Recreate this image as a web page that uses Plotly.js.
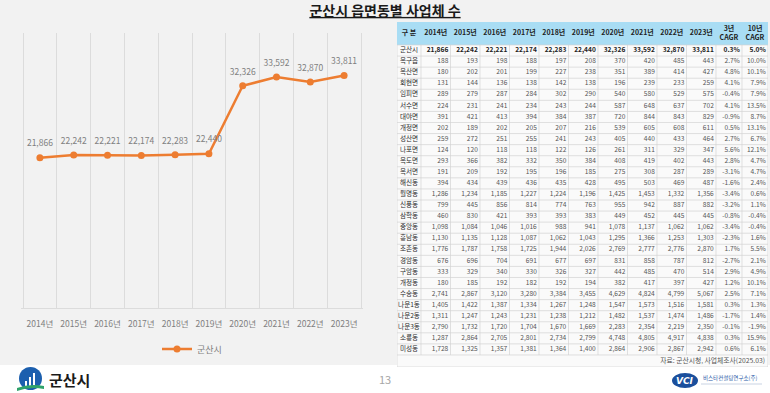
<!DOCTYPE html>
<html><head><meta charset="utf-8">
<script src="https://cdn.plot.ly/plotly-3.0.1.min.js"></script>
<style>html,body{margin:0;padding:0;background:#fff;}#chart{width:770px;height:393px;}</style>
</head><body><div id="chart"></div>
<script>
// ---------------- data ----------------
const years = ['2014년','2015년','2016년','2017년','2018년','2019년','2020년','2021년','2022년','2023년'];
const gunsanTotal = [21866,22242,22221,22174,22283,22440,32326,33592,32870,33811];
const seriesName = '군산시';
const chartTitle = '군산시 읍면동별 사업체 수';

const regions = ['군산시','옥구읍','옥산면','회현면','임피면','서수면','대야면','개정면','성산면','나포면',
  '옥도면','옥서면','해신동','월명동','신풍동','삼학동','중앙동','흥남동','조촌동','경암동',
  '구암동','개정동','수송동','나운1동','나운2동','나운3동','소룡동','미성동'];
const regionCounts = [
  [21866,22242,22221,22174,22283,22440,32326,33592,32870,33811],
  [188,193,198,188,197,208,370,420,485,443],
  [180,202,201,199,227,238,351,389,414,427],
  [131,144,136,138,142,138,196,239,233,259],
  [289,279,287,284,302,290,540,580,529,575],
  [224,231,241,234,243,244,587,648,637,702],
  [391,421,413,394,384,387,720,844,843,829],
  [202,189,202,205,207,216,539,605,608,611],
  [259,272,251,255,241,243,405,440,433,464],
  [124,120,118,118,122,126,261,311,329,347],
  [293,366,382,332,350,384,408,419,402,443],
  [191,209,192,195,196,185,275,308,287,289],
  [394,434,439,436,435,428,495,503,469,487],
  [1286,1234,1185,1227,1224,1196,1425,1453,1332,1356],
  [799,445,856,814,774,763,955,942,887,882],
  [460,830,421,393,393,383,449,452,445,445],
  [1098,1084,1046,1016,988,941,1078,1137,1062,1062],
  [1130,1135,1128,1087,1062,1043,1295,1366,1253,1303],
  [1776,1787,1758,1725,1944,2026,2769,2777,2776,2870],
  [676,696,704,691,677,697,831,858,787,812],
  [333,329,340,330,326,327,442,485,470,514],
  [180,185,192,182,192,194,382,417,397,427],
  [2741,2867,3120,3280,3384,3455,4629,4824,4799,5067],
  [1405,1422,1387,1334,1267,1248,1547,1573,1516,1581],
  [1311,1247,1243,1231,1238,1212,1482,1537,1474,1486],
  [2790,1732,1720,1704,1670,1669,2283,2354,2219,2350],
  [1287,2864,2705,2801,2734,2799,4748,4805,4917,4838],
  [1728,1325,1357,1381,1364,1400,2864,2906,2867,2942]
];
const cagr3 = [0.3,2.7,4.8,4.1,-0.4,4.1,-0.9,0.5,2.7,5.6,2.8,-3.1,-1.6,-3.4,-3.2,-0.8,-3.4,-2.3,1.7,-2.7,2.9,1.2,2.5,0.3,-1.7,-0.1,0.3,0.6];
const cagr10 = [5.0,10.0,10.1,7.9,7.9,13.5,8.7,13.1,6.7,12.1,4.7,4.7,2.4,0.6,1.1,-0.4,-0.4,1.6,5.5,2.1,4.9,10.1,7.1,1.3,1.4,-1.9,15.9,6.1];
const headerLabels = ['구 분'].concat(years).concat(['3년<br>CAGR','10년<br>CAGR']);
const sourceNote = '자료: 군산시청, 사업체조사(2025.03)';

// ---------------- geometry / style ----------------
const W = 770, H = 393;
const px = x => x / W;
const py = y => 1 - y / H;
const FONT = '"Noto Sans CJK KR", "Noto Sans", sans-serif';
const ORANGE = '#ED7D31';
const GREY_TXT = '#7f7f7f';

const TBL_L = 397, TBL_T = 22, TBL_B = 367;
const NAME_W = 24, YEAR_W = 29.5, CAGR_W = 26;
const HEAD_H = 23, ROW_H = 11.07;
const colWidths = [NAME_W].concat(years.map(() => YEAR_W)).concat([CAGR_W, CAGR_W]);
const colEdges = [0];
colWidths.forEach(w => colEdges.push(colEdges[colEdges.length - 1] + w));
const tblW = colEdges[colEdges.length - 1];
const TBL_R = TBL_L + tblW;
const tblH = TBL_B - TBL_T;
const bodyEnd = HEAD_H + regions.length * ROW_H;

const fmtNum = v => v.toLocaleString('en-US');
const fmtPct = v => v.toFixed(1) + '%';

// ---------------- traces ----------------
const traces = [];
traces.push({
  type: 'scatter', mode: 'lines+markers', x: years, y: gunsanTotal, name: seriesName,
  line: {color: ORANGE, width: 2.5}, marker: {color: ORANGE, size: 7},
  hoverinfo: 'skip', cliponaxis: false
});
traces.push({
  type: 'scatter', mode: 'markers+text', x: years, y: gunsanTotal, showlegend: false,
  text: gunsanTotal.map(fmtNum), textposition: 'top center',
  textfont: {family: FONT, size: 8.5, color: GREY_TXT},
  marker: {size: 13, color: 'rgba(0,0,0,0)'}, hoverinfo: 'skip', cliponaxis: false
});

// table header
traces.push({
  type: 'scatter', mode: 'text', xaxis: 'x2', yaxis: 'y2', showlegend: false, hoverinfo: 'skip', cliponaxis: false,
  x: headerLabels.map((_, j) => (colEdges[j] + colEdges[j + 1]) / 2),
  y: headerLabels.map(() => HEAD_H / 2),
  text: headerLabels.map(t => '<b>' + t + '</b>'),
  textposition: 'middle center',
  textfont: {family: FONT, size: 7, color: '#1f1f1f'}
});
// region names
traces.push({
  type: 'scatter', mode: 'text', xaxis: 'x2', yaxis: 'y2', showlegend: false, hoverinfo: 'skip', cliponaxis: false,
  x: regions.map(() => (colEdges[0] + colEdges[1]) / 2),
  y: regions.map((_, i) => HEAD_H + (i + 0.5) * ROW_H),
  text: regions,
  textposition: 'middle center',
  textfont: {family: FONT, size: 6.6, color: '#2b2b2b'}
});
// numeric cells
const cx = [], cy = [], ct = [], cc = [];
regions.forEach((r, i) => {
  const rowVals = regionCounts[i].map(fmtNum).concat([fmtPct(cagr3[i]), fmtPct(cagr10[i])]);
  rowVals.forEach((t, j) => {
    cx.push(colEdges[j + 2] - 2.2);
    cy.push(HEAD_H + (i + 0.5) * ROW_H);
    ct.push(i === 0 ? '<b>' + t + '</b>' : t);
    cc.push(i === 0 ? '#222222' : '#555555');
  });
});
traces.push({
  type: 'scatter', mode: 'text', xaxis: 'x2', yaxis: 'y2', showlegend: false, hoverinfo: 'skip', cliponaxis: false,
  x: cx, y: cy, text: ct, textposition: 'middle left',
  textfont: {family: FONT, size: 6.6, color: cc}
});
// source note
traces.push({
  type: 'scatter', mode: 'text', xaxis: 'x2', yaxis: 'y2', showlegend: false, hoverinfo: 'skip', cliponaxis: false,
  x: [tblW - 3], y: [(bodyEnd + tblH) / 2], text: [sourceNote], textposition: 'middle left',
  textfont: {family: FONT, size: 6.8, color: '#555555'}
});

// ---------------- shapes ----------------
const LINE_C = '#d3d3d3';
const shapes = [];
shapes.push({type: 'rect', xref: 'paper', yref: 'paper', x0: 0, x1: 1, y0: py(365), y1: 1, fillcolor: '#f2f2f2', line: {width: 0}, layer: 'below'});
shapes.push({type: 'rect', xref: 'x2', yref: 'y2', x0: 0, x1: tblW, y0: HEAD_H, y1: tblH, fillcolor: '#fafafa', line: {width: 0}, layer: 'below'});
shapes.push({type: 'rect', xref: 'x2', yref: 'y2', x0: 0, x1: tblW, y0: 0, y1: HEAD_H, fillcolor: '#a9ddf4', line: {width: 0}, layer: 'below'});
for (let i = 0; i <= regions.length; i++) {
  const y = HEAD_H + i * ROW_H;
  shapes.push({type: 'line', xref: 'x2', yref: 'y2', x0: 0, x1: tblW, y0: y, y1: y, line: {color: LINE_C, width: 0.7}, layer: 'below'});
}
shapes.push({type: 'line', xref: 'x2', yref: 'y2', x0: 0, x1: tblW, y0: tblH, y1: tblH, line: {color: LINE_C, width: 0.7}, layer: 'below'});
colEdges.forEach((e, k) => {
  const outer = (k === 0 || k === colEdges.length - 1);
  shapes.push({type: 'line', xref: 'x2', yref: 'y2', x0: e, x1: e, y0: HEAD_H, y1: outer ? tblH : bodyEnd,
    line: {color: LINE_C, width: 0.7}, layer: 'below'});
});
// Gunsan logo (decorative)
shapes.push({type: 'circle', xref: 'paper', yref: 'paper', x0: px(19), x1: px(42), y0: py(390), y1: py(367), fillcolor: '#1c5fae', line: {width: 0}});
[[25, 381, 27], [29, 377, 31], [33, 373, 35]].forEach(b => {
  shapes.push({type: 'rect', xref: 'paper', yref: 'paper', x0: px(b[0]), x1: px(b[2]), y0: py(387), y1: py(b[1]), fillcolor: '#ffffff', line: {width: 0}});
});
shapes.push({type: 'path', xref: 'paper', yref: 'paper',
  path: `M ${px(17)} ${py(388)} Q ${px(30)} ${py(383)} ${px(44)} ${py(386)} L ${px(44)} ${py(389)} Q ${px(30)} ${py(386)} ${px(17)} ${py(391)} Z`,
  fillcolor: '#2fa36b', line: {width: 0}});
// VCI logo
shapes.push({type: 'circle', xref: 'paper', yref: 'paper', x0: px(672), x1: px(698), y0: py(388), y1: py(373), fillcolor: '#1b4f9c', line: {width: 0}});
shapes.push({type: 'line', xref: 'paper', yref: 'paper', x0: px(701), x1: px(762), y0: py(384), y1: py(384), line: {color: '#c9d3e3', width: 1}});

// ---------------- annotations ----------------
const annotations = [
  {xref: 'paper', yref: 'paper', x: px(69), y: py(379), text: '<b>군산시</b>', showarrow: false,
   font: {family: FONT, size: 15, color: '#1a1a1a'}, xanchor: 'center', yanchor: 'middle'},
  {xref: 'paper', yref: 'paper', x: px(385), y: py(379), text: '13', showarrow: false,
   font: {family: FONT, size: 11, color: '#a6a6a6'}, xanchor: 'center', yanchor: 'middle'},
  {xref: 'paper', yref: 'paper', x: px(685), y: py(380.5), text: '<b><i>VCI</i></b>', showarrow: false,
   font: {family: 'DejaVu Sans', size: 9, color: '#ffffff'}, xanchor: 'center', yanchor: 'middle'},
  {xref: 'paper', yref: 'paper', x: px(701), y: py(378), text: '비스타컨설팅연구소(주)', showarrow: false,
   font: {family: FONT, size: 5.5, color: '#2a5aa8'}, xanchor: 'left', yanchor: 'middle'}
];

// ---------------- layout ----------------
const unit = (361 - 23) / 10;
const layout = {
  width: W, height: H, autosize: false,
  margin: {l: 0, r: 0, t: 0, b: 0, pad: 0},
  paper_bgcolor: '#ffffff', plot_bgcolor: 'rgba(0,0,0,0)',
  font: {family: FONT, color: GREY_TXT},
  title: {text: '<b><u>' + chartTitle + '</u></b>', x: 0.5, xanchor: 'center', y: py(11), yanchor: 'middle',
          xref: 'paper', yref: 'container', font: {family: FONT, size: 14, color: '#1a1a1a'}},
  showlegend: true,
  legend: {orientation: 'h', x: px(192), xanchor: 'center', y: py(349), yanchor: 'middle',
           bgcolor: 'rgba(0,0,0,0)', font: {family: FONT, size: 9, color: GREY_TXT}},
  xaxis: {domain: [px(23 - 0.05 * unit), px(361 + 0.05 * unit)], type: 'category', range: [-0.55, 9.55],
          tickson: 'boundaries', ticks: '', tickangle: 0, showgrid: true, gridcolor: '#dcdcdc', gridwidth: 1,
          showline: true, linecolor: '#dcdcdc', linewidth: 1, zeroline: false, fixedrange: true,
          tickfont: {family: FONT, size: 8.5, color: GREY_TXT}, ticklabelstandoff: 8},
  yaxis: {domain: [py(308), py(33)], range: [0, 40000], visible: false, showgrid: false, zeroline: false, fixedrange: true},
  xaxis2: {domain: [px(TBL_L), px(TBL_R)], range: [0, tblW], anchor: 'y2', visible: false, fixedrange: true},
  yaxis2: {domain: [py(TBL_B), py(TBL_T)], range: [tblH, 0], anchor: 'x2', visible: false, fixedrange: true},
  shapes: shapes,
  annotations: annotations
};

Plotly.newPlot('chart', traces, layout, {displayModeBar: false, staticPlot: true});
</script>
</body></html>
